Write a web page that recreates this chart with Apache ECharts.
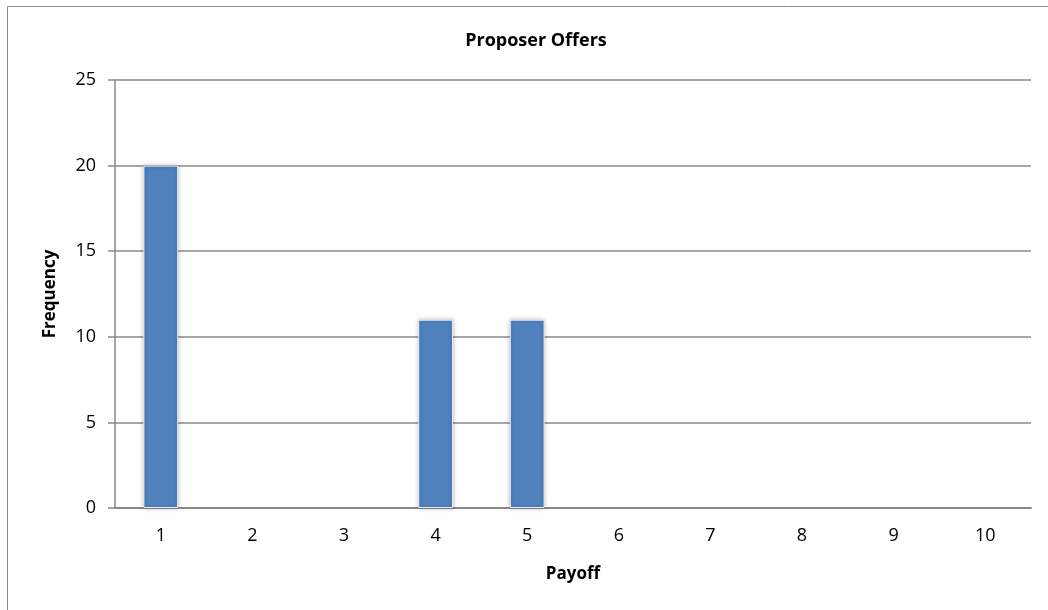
<!DOCTYPE html>
<html>
<head>
<meta charset="utf-8">
<script src="https://cdn.jsdelivr.net/npm/echarts@6/dist/echarts.min.js"></script>
<style>
  html, body { margin: 0; padding: 0; background: #fff; }
  #chart { width: 1048px; height: 610px; }
</style>
</head>
<body>
<div id="chart"></div>
<script>
// Payoff categories and how often each was offered
const payoffs = ['1', '2', '3', '4', '5', '6', '7', '8', '9', '10'];
const frequency = [20, 0, 0, 11, 11, 0, 0, 0, 0, 0];
const yTicks = { min: 0, max: 25, interval: 5 };

const FONT = '"Open Sans", "Liberation Sans", sans-serif';
const chart = echarts.init(document.getElementById('chart'));

const barStyle = {
  color: '#4f81bd',
  borderColor: '#e8eef7',
  borderWidth: 1,
  shadowColor: 'rgba(0,0,0,0.25)',
  shadowBlur: 4
};

chart.setOption({
  animation: false,
  backgroundColor: '#fff',
  title: {
    text: 'Proposer Offers',
    left: 531,
    textAlign: 'center',
    top: 27,
    textStyle: { fontFamily: FONT, fontSize: 18, fontWeight: 'bold', color: '#000' }
  },
  graphic: [{
    type: 'rect',
    shape: { x: 7.5, y: 6.5, width: 1200, height: 800 },
    style: { fill: 'none', stroke: '#8c8c8c', lineWidth: 1 },
    silent: true
  }],
  grid: { left: 115, right: 17, top: 80, bottom: 102 },
  xAxis: {
    type: 'category',
    data: payoffs,
    name: 'Payoff',
    nameLocation: 'middle',
    nameGap: 58,
    nameTextStyle: { fontFamily: FONT, fontSize: 17, fontWeight: 'bold', color: '#000' },
    axisLine: { lineStyle: { color: '#888', width: 2 } },
    axisTick: { show: false },
    axisLabel: { fontFamily: FONT, fontSize: 18, color: '#000', margin: 19 }
  },
  yAxis: {
    type: 'value',
    min: yTicks.min,
    max: yTicks.max,
    interval: yTicks.interval,
    name: 'Frequency',
    nameLocation: 'middle',
    nameGap: 56,
    nameTextStyle: { fontFamily: FONT, fontSize: 17, fontWeight: 'bold', color: '#000' },
    axisLine: { show: true, lineStyle: { color: '#888', width: 1.5 } },
    axisTick: { show: true, length: 7, lineStyle: { color: '#888', width: 1.5 } },
    axisLabel: { fontFamily: FONT, fontSize: 18, color: '#000', margin: 19 },
    splitLine: { lineStyle: { color: '#888', width: 1.5 } }
  },
  series: [{
    type: 'bar',
    // empty categories get no outline or shadow
    data: frequency.map(v => v > 0 ? v : { value: v, itemStyle: { borderWidth: 0, shadowBlur: 0, opacity: 0 } }),
    barWidth: '38%',
    itemStyle: barStyle
  }]
});
</script>
</body>
</html>
